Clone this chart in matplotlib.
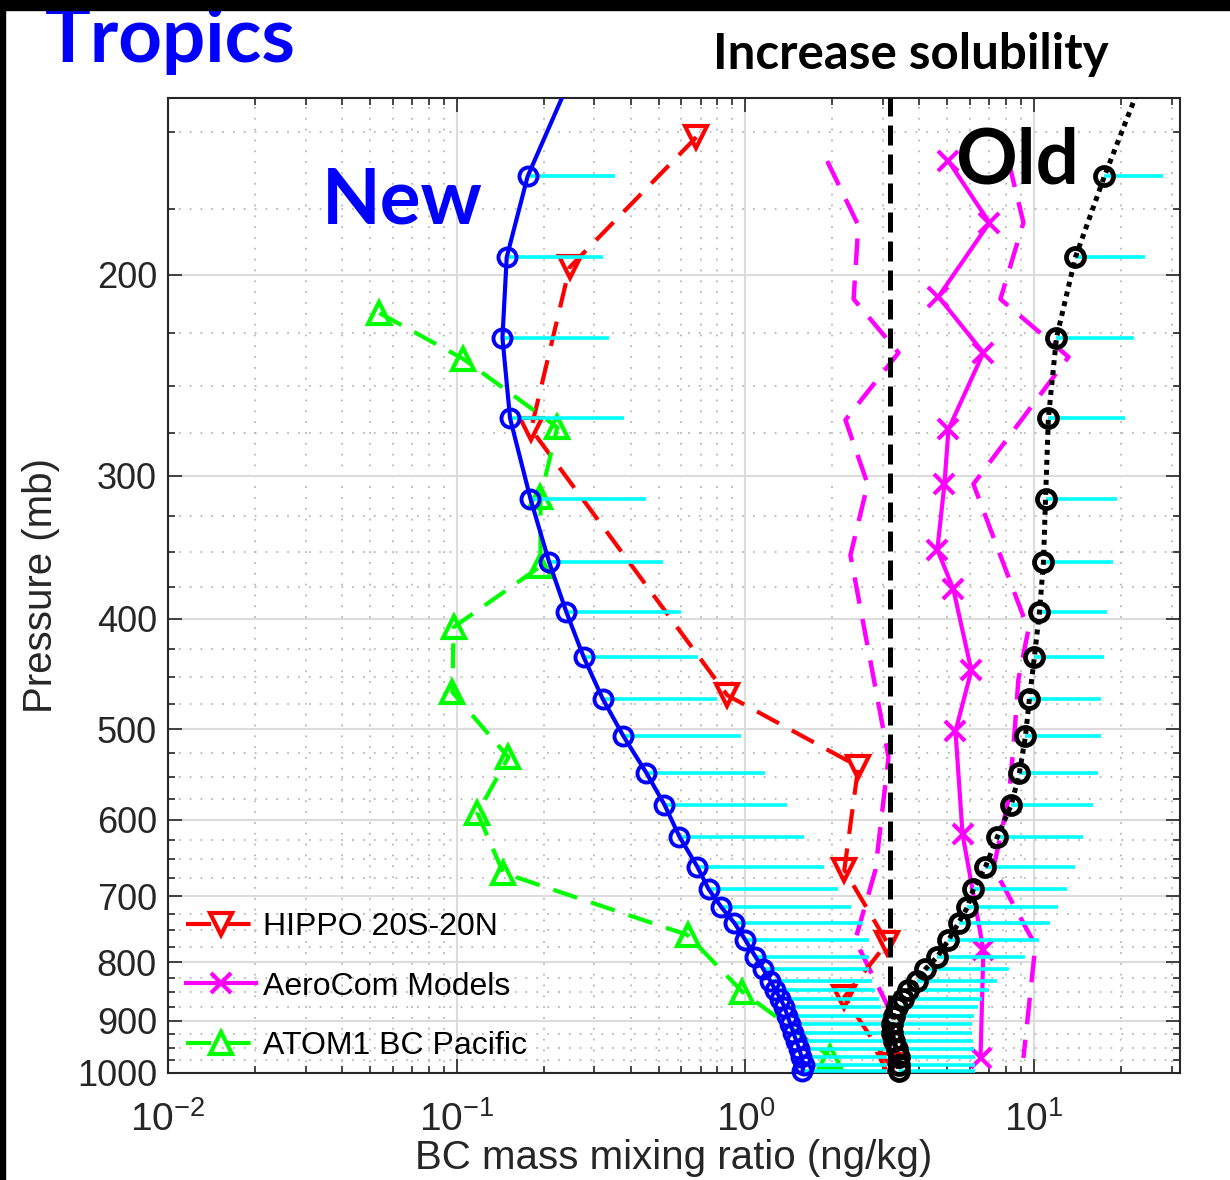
import numpy as np
import matplotlib
matplotlib.use('Agg')
import matplotlib.pyplot as plt
from matplotlib.ticker import FixedLocator, LogLocator, LogFormatterMathtext, FuncFormatter, NullFormatter
from matplotlib.lines import Line2D
from matplotlib.patches import Rectangle

# ---------------- data ----------------
# model levels (mb) shared by the "New" and "Old" profiles
p_model = [164, 193, 227, 267, 314, 357, 395, 432, 470, 507, 546, 582, 621,
           660, 690, 716, 739, 765, 791, 811, 831, 846, 861, 875, 891, 906,
           922, 938, 953, 968, 984, 996]
new_bc = [0.176, 0.149, 0.144, 0.153, 0.180, 0.209, 0.240, 0.275, 0.320, 0.378,
          0.454, 0.524, 0.591, 0.682, 0.745, 0.826, 0.916, 1.0, 1.083, 1.154,
          1.221, 1.270, 1.322, 1.365, 1.398, 1.432, 1.466, 1.502, 1.538, 1.563,
          1.589, 1.576]
new_bc_hi = [0.352, 0.322, 0.338, 0.381, 0.451, 0.520, 0.600, 0.687, 0.800, 0.969,
             1.173, 1.398, 1.60, 1.877, 2.10, 2.33, 2.56, 2.67, 2.67, 2.67,
             2.75, 2.82, 2.89, 2.95, 3.0, 3.05, 3.1, 3.1, 3.1, 3.1, 3.1, 3.1]
old_bc = [17.5, 13.9, 11.95, 11.2, 10.95, 10.77, 10.43, 10.02, 9.63, 9.33,
          8.89, 8.34, 7.46, 6.78, 6.16, 5.87, 5.47, 5.05, 4.62, 4.20,
          3.94, 3.67, 3.50, 3.36, 3.26, 3.23, 3.23, 3.26, 3.34, 3.39, 3.39, 3.39]
old_bc_hi = [28.0, 24.3, 22.1, 20.7, 19.4, 18.7, 17.9, 17.4, 17.1, 17.1,
             16.7, 16.05, 14.8, 13.9, 13.04, 12.14, 11.39, 10.43, 9.33, 8.15,
             7.46, 6.95, 6.62, 6.41, 6.21, 6.11, 6.11, 6.16, 6.21, 6.26, 6.26, 6.26]
# level above the plotted range (profiles continue beyond the top axis)
p_above = 115
new_above = 0.325
old_above = 30.3

hippo_p = [151.5, 197, 273, 467, 539, 664, 769, 858, 984]
hippo_bc = [0.676, 0.246, 0.181, 0.866, 2.46, 2.20, 3.10, 2.20, 3.15]

atom_p = [216, 237, 272, 313, 360, 407, 464, 529, 592, 668, 757, 849, 968]
atom_bc = [0.054, 0.1055, 0.223, 0.195, 0.195, 0.0975, 0.0966, 0.151, 0.118,
           0.145, 0.630, 0.976, 1.97]

aero_p = [159, 180, 209, 234, 273, 305, 348, 377, 444, 502, 618, 780, 970]
aero_bc = [5.05, 7.0, 4.66, 6.67, 5.05, 4.89, 4.62, 5.25, 6.06, 5.34, 5.65, 6.67, 6.52]

aero_lo_p = [159, 181, 210, 234, 268, 305, 352, 529, 664, 765, 872, 974]
aero_lo_bc = [1.92, 2.46, 2.37, 3.39, 2.22, 2.65, 2.31, 3.13, 2.82, 2.40, 3.10, 3.36]

aero_hi_p = [159, 180, 210, 236, 305, 409, 452, 518, 576, 661, 773, 970]
aero_hi_bc = [8.15, 9.18, 7.64, 13.15, 6.16, 9.55, 8.82, 8.48, 8.15, 7.23, 10.1, 9.18]

solubility_split = 3.18

y_major = [200, 300, 400, 500, 600, 700, 800, 900, 1000]
y_minor = [150, 175] + [v for v in range(225, 1000, 25) if v % 100 != 0]

legend_labels = ['HIPPO 20S-20N', 'AeroCom Models', 'ATOM1 BC Pacific']

# ---------------- figure ----------------
plt.rcParams['font.family'] = ['Liberation Sans', 'DejaVu Sans']
plt.rcParams['mathtext.default'] = 'regular'

W, H = 1230, 1180
fig = plt.figure(figsize=(W / 100, H / 100), dpi=100)
fig.patch.set_facecolor('white')
ax = fig.add_axes([168 / W, (H - 1073) / H, (1180 - 168) / W, (1073 - 98) / H])

ax.set_xscale('log')
ax.set_yscale('log')
ax.set_xlim(0.01, 32)
ax.set_ylim(1000, 140)

txtc = '#262626'
ax.yaxis.set_major_locator(FixedLocator(y_major))
ax.yaxis.set_minor_locator(FixedLocator(y_minor))
ax.yaxis.set_major_formatter(FuncFormatter(lambda v, pos: '%d' % v))
ax.yaxis.set_minor_formatter(NullFormatter())
ax.xaxis.set_major_locator(LogLocator(base=10))
ax.xaxis.set_minor_locator(LogLocator(base=10, subs=np.arange(2, 10)))
ax.xaxis.set_major_formatter(LogFormatterMathtext())
ax.xaxis.set_minor_formatter(NullFormatter())

ax.tick_params(which='both', direction='in', top=True, right=True,
               colors=txtc, width=1.2)
ax.tick_params(which='major', length=10)
ax.tick_params(axis='y', which='major', labelsize=26, pad=8)
ax.tick_params(axis='x', which='major', labelsize=28, pad=20)
ax.tick_params(which='minor', length=5)
for s in ax.spines.values():
    s.set_color(txtc)
    s.set_linewidth(1.5)

ax.set_axisbelow(True)
ax.grid(True, which='major', color='#dcdcdc', lw=1.5, ls='-')
ax.grid(True, which='minor', color='#b8b8b8', lw=1.3, ls=(0, (1, 5)))

ax.set_xlabel('BC mass mixing ratio (ng/kg)', fontsize=29, color=txtc, labelpad=0)
ax.set_ylabel('Pressure (mb)', fontsize=29, color=txtc, labelpad=12)

dash = (0, (6, 3.5))
# AeroCom range (dashed)
ax.plot(aero_lo_bc, aero_lo_p, color='#ff00ff', lw=3.2, ls=dash, zorder=2)
ax.plot(aero_hi_bc, aero_hi_p, color='#ff00ff', lw=3.2, ls=dash, zorder=2)
# AeroCom mean
ax.plot(aero_bc, aero_p, color='#ff00ff', lw=3, marker='x', ms=14, mew=3, zorder=2)
# HIPPO
ax.plot(hippo_bc, hippo_p, color='#ff0000', lw=3, ls=dash, marker='v', ms=16,
        mew=3, mfc='none', zorder=2)
# ATOM1
ax.plot(atom_bc, atom_p, color='#00ff00', lw=3, ls=dash, marker='^', ms=16,
        mew=3, mfc='none', zorder=2)

# one-sided spread bars
ax.hlines(p_model, new_bc, new_bc_hi, color='#00ffff', lw=2.6, zorder=3)
ax.hlines(p_model, old_bc, old_bc_hi, color='#00ffff', lw=2.6, zorder=3)

# New profile
ax.plot([new_above] + new_bc, [p_above] + p_model, color='#0000ff', lw=3, zorder=4)
ax.plot(new_bc, p_model, ls='none', marker='o', ms=13, mew=2.8, mfc='none',
        mec='#0000ff', zorder=4, clip_on=False)
# Old profile
ax.plot([old_above] + old_bc, [p_above] + p_model, color='black', lw=3.6,
        ls=(0, (1, 1)), zorder=4)
ax.plot(old_bc, p_model, ls='none', marker='o', ms=13, mew=3.4, mfc='none',
        mec='black', zorder=4, clip_on=False)

ax.axvline(solubility_split, color='black', lw=3.6, ls=(0, (4, 1.8)), zorder=5)

# legend
handles = [
    Line2D([], [], color='#ff0000', lw=3, ls=dash, marker='v', ms=16, mew=3, mfc='none'),
    Line2D([], [], color='#ff00ff', lw=3, marker='x', ms=14, mew=3),
    Line2D([], [], color='#00ff00', lw=3, ls=dash, marker='^', ms=16, mew=3, mfc='none'),
]
leg = ax.legend(handles, legend_labels, loc='lower left', bbox_to_anchor=(0.018, 0.012),
                frameon=False, fontsize=23, handlelength=2.2, handletextpad=0.2,
                labelspacing=0.93, borderpad=0, borderaxespad=0)
for t in leg.get_texts():
    t.set_color('black')

# annotations
bold = ['Lato', 'DejaVu Sans']
fig.text(322 / W, (H - 223) / H, 'New', fontsize=55, fontweight='bold',
         color='#0000ff', family=bold, va='baseline', ha='left', zorder=6)
fig.text(955 / W, (H - 183) / H, 'Old', fontsize=55, fontweight='bold',
         color='black', family=bold, va='baseline', ha='left', zorder=6)
fig.text(45 / W, (H - 62) / H, 'Tropics', fontsize=55, fontweight='bold',
         color='#0000ff', family=bold, va='baseline', ha='left')
fig.text(713 / W, (H - 69) / H, 'Increase solubility', fontsize=35.5, fontweight='bold',
         color='black', family=bold, va='baseline', ha='left')

# black screen-capture edges
fig.add_artist(Rectangle((0, 1 - 10 / H), 1, 10 / H, transform=fig.transFigure,
                         color='black', zorder=10))
fig.add_artist(Rectangle((0, 0), 5 / W, 1, transform=fig.transFigure,
                         color='black', zorder=10))

fig.savefig('out.png', dpi=100, facecolor='white')
